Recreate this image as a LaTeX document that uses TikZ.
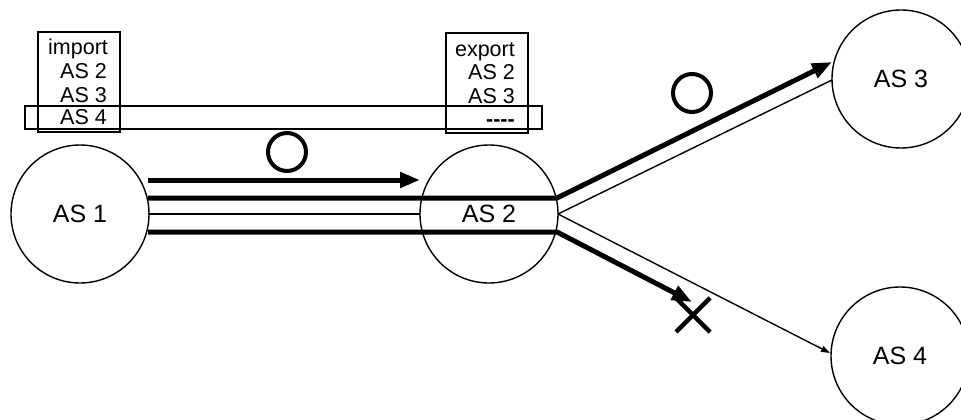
\documentclass[tikz,border=0pt]{standalone}
\usepackage{fontspec}
\setmainfont{Liberation Sans}
\usetikzlibrary{arrows.meta}
\begin{document}
\begin{tikzpicture}[x=1pt,y=-1pt,
  asnode/.style={circle,draw,line width=1.4pt,minimum size=138pt,inner sep=0pt,font=\fontsize{25}{30}\selectfont},
  thickline/.style={line width=5pt},
  thinline/.style={line width=1.4pt},
  bigtip/.style={-{Triangle[length=20pt,width=15pt]}},
  smalltip/.style={-{Triangle[length=9pt,width=6pt]}},
  boxt/.style={font=\fontsize{21.5}{23}\selectfont,inner sep=0pt},
  tablebox/.style={draw,line width=1.6pt},
  okmark/.style={circle,draw,line width=4pt,minimum size=38pt,inner sep=0pt},
  ngmark/.style={line width=4.5pt}]
\useasboundingbox (0,0) rectangle (961,420);

% AS nodes
\node[asnode] (AS1) at (80,214) {AS 1};
\node[asnode] (AS2) at (489,214) {AS 2};
\node[asnode] (AS3) at (901,79) {AS 3};
\node[asnode] (AS4) at (900,356) {AS 4};

% policy tables
\draw[tablebox] (38,32) rectangle (120,132);
\draw[tablebox] (446,33) rectangle (528,133);
\draw[tablebox] (25,106) rectangle (542,129);

\node[boxt,anchor=base west] (impt) at (48,55) {import};
\node[boxt,anchor=base east] (imp2) at (107,78) {AS 2};
\node[boxt,anchor=base east] (imp3) at (107,102) {AS 3};
\node[boxt,anchor=base east] (imp4) at (107,124) {AS 4};

\node[boxt,anchor=base east] (expt) at (515,57) {export};
\node[boxt,anchor=base east] (exp2) at (515,79) {AS 2};
\node[boxt,anchor=base east] (exp3) at (515,103) {AS 3};
\node[boxt,anchor=base east] (exp4) at (515,126) {\bfseries{-}{-}{-}{-}};

% connection points
\coordinate (p1) at (148,180);
\coordinate (p2) at (148,198);
\coordinate (p3) at (148,214);
\coordinate (p4) at (148,232);
\coordinate (q1) at (420,180);
\coordinate (q2) at (557,198);
\coordinate (q3) at (420,214);
\coordinate (q4) at (557,232);
\coordinate (r3) at (558,214);
\coordinate (t3) at (832,62);
\coordinate (u3) at (832,80);
\coordinate (t4) at (830,353);
\coordinate (xx) at (692,302);

% connectors
\draw[thickline,bigtip] (p1) -- (q1);
\draw[thickline,bigtip] (p2) -- (q2) -- (t3);
\draw[thinline] (p3) -- (q3);
\draw[thickline,bigtip] (p4) -- (q4) -- (xx);
\draw[thinline] (r3) -- (u3);
\draw[thinline,smalltip] (r3) -- (t4);

% marks
\node[okmark] (ok1) at (287,152) {};
\node[okmark] (ok2) at (692,93) {};
\coordinate (ng) at (693,315);
\draw[ngmark] ([shift={(-17,-17)}]ng) -- ([shift={(17,17)}]ng);
\draw[ngmark] ([shift={(-17,17)}]ng) -- ([shift={(17,-17)}]ng);
\end{tikzpicture}
\end{document}
